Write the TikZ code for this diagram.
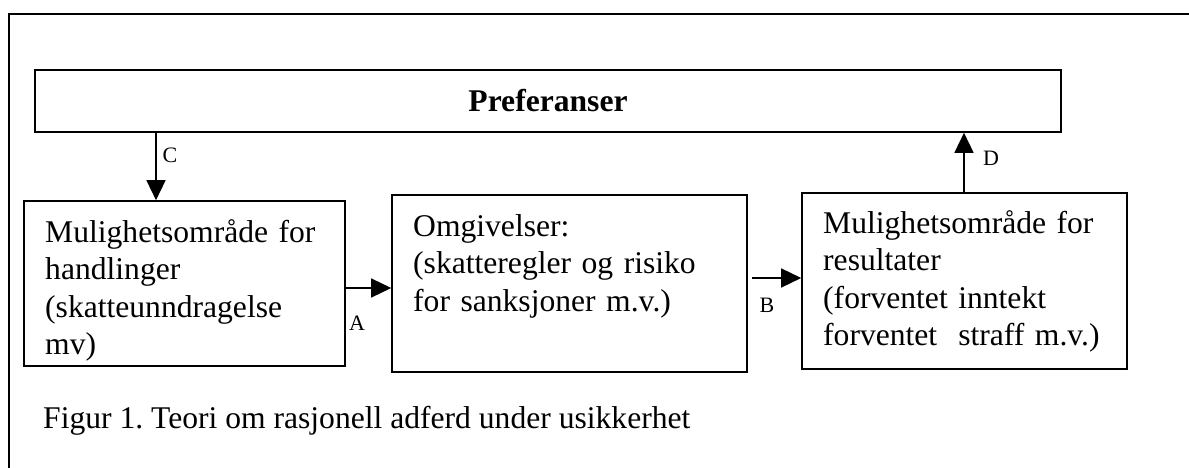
\documentclass[tikz,border=0pt]{standalone}
\usepackage{fontspec}
\setmainfont{Liberation Serif}
\usetikzlibrary{arrows.meta}
\begin{document}
\frenchspacing
\begin{tikzpicture}[x=1pt,y=-1pt,
  box/.style={draw, line width=1.6pt, rectangle, inner sep=0pt},
  boxtext/.style={anchor=north west, inner sep=0pt, align=left, text width=330pt,
    font=\fontsize{31.6}{37.5}\selectfont\frenchspacing},
  lbl/.style={anchor=base, inner sep=0pt, font=\fontsize{22}{26}\selectfont},
  arr/.style={line width=1.4pt, -{Triangle[length=20pt,width=19pt]}}]
\useasboundingbox (0,0) rectangle (1189,468);
% outer frame (left and top edges only)
\draw[line width=2pt] (9,468) -- (9,14) -- (1189,14);
% boxes
\node[box, minimum width=1026pt, minimum height=62pt] (pref) at (548,101) {};
\node[box, minimum width=321pt, minimum height=165pt] (lbox) at (184.5,283.5) {};
\node[box, minimum width=355pt, minimum height=177pt] (mbox) at (569.5,283.5) {};
\node[box, minimum width=325pt, minimum height=176pt] (rbox) at (964.5,281) {};
% texts
\node[anchor=base, inner sep=0pt, font=\fontsize{31.6}{37.5}\selectfont\bfseries] (preft) at (548,112) {Preferanser};
\node[boxtext] (lt) at (45,215.75) {\strut Mulighetsområde for\\handlinger\\(skatteunndragelse\\mv)};
\node[boxtext] (mt) at (413,209.75) {\strut Omgivelser:\\(skatteregler og risiko\\for sanksjoner m.v.)};
\node[boxtext] (rt) at (823,206.75) {\strut Mulighetsområde for\\resultater\\(forventet inntekt\\forventet\ \ straff m.v.)};
\node[anchor=base west, inner sep=0pt, font=\fontsize{31.6}{37.5}\selectfont\frenchspacing] (cap) at (43,428) {Figur 1. Teori om rasjonell adferd under usikkerhet};
% connectors
\draw[arr] (pref.south -| 156,0) -- (lbox.north -| 156,0);
\draw[arr] (rbox.north -| 964,0) -- (pref.south -| 964,0);
\draw[arr] (lbox.east |- 0,288) -- (mbox.west |- 0,288);
\draw[arr] ([xshift=4pt]mbox.east |- 0,278) -- (rbox.west |- 0,278);
% labels
\node[lbl] (la) at (357,330) {A};
\node[lbl] (lb) at (767,312) {B};
\node[lbl] (lc) at (170,163) {C};
\node[lbl] (ld) at (991,166) {D};
\end{tikzpicture}
\end{document}
